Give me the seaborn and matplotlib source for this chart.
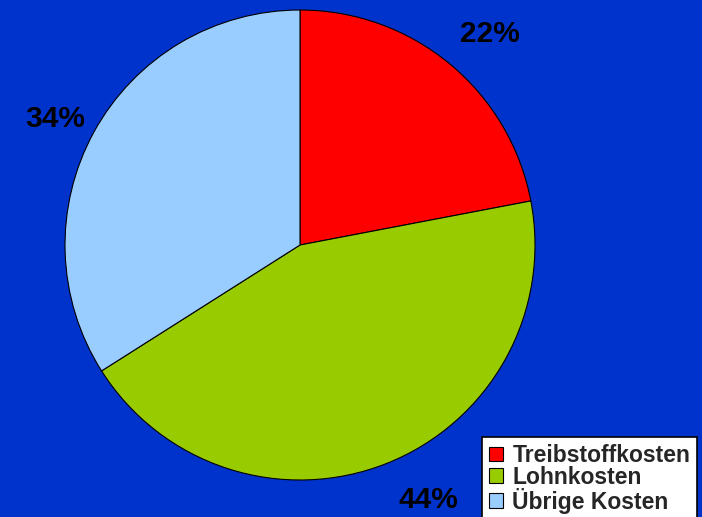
import matplotlib
matplotlib.use("Agg")
import matplotlib.pyplot as plt
import seaborn as sns

# data
categories = ["Treibstoffkosten", "Lohnkosten", "Übrige Kosten"]
shares = [22, 44, 34]
colors = ["#FF0000", "#99CC00", "#99CCFF"]

# small manual offsets for the percentage labels (axes data units)
label_nudge = [(0.045, -0.027), (0.105, 0.03), (0.01, -0.04)]

sns.set_theme(style="white")
plt.rcParams['font.family'] = ['Liberation Sans', 'DejaVu Sans']
palette = sns.color_palette(colors)

fig = plt.figure(figsize=(7.02, 5.17), dpi=100)
fig.patch.set_facecolor("#0033CC")

# pie area: centre ~(300,245) px, radius ~235 px
ax = fig.add_axes([65 / 702, 37 / 517, 470 / 702, 470 / 517])
ax.set_facecolor("none")

wedges, texts, autotexts = ax.pie(
    shares,
    colors=palette,
    startangle=90,
    counterclock=False,
    autopct='%d%%',
    pctdistance=1.2,
    wedgeprops=dict(edgecolor="black", linewidth=0.8),
    textprops=dict(fontsize=21.5, fontweight="bold", color="black"),
)
for t, (dx, dy) in zip(autotexts, label_nudge):
    x, y = t.get_position()
    t.set_position((x + dx, y + dy))

ax.set_xlim(-1, 1)
ax.set_ylim(-1, 1)
ax.set_aspect("equal")
ax.axis("off")

leg = fig.legend(
    wedges, categories,
    loc="upper left",
    bbox_to_anchor=(482 / 702, 1 - 437 / 517),
    bbox_transform=fig.transFigure,
    frameon=True,
    fancybox=False,
    framealpha=1,
    edgecolor="black",
    facecolor="white",
    prop=dict(size=16.5, weight="bold"),
    handlelength=0.6,
    handleheight=0.6,
    handletextpad=0.43,
    labelspacing=-0.05,
    borderpad=0.3,
    borderaxespad=0,
)
leg.get_frame().set_linewidth(1.2)

fig.savefig("out.png", dpi=100, facecolor=fig.get_facecolor())
